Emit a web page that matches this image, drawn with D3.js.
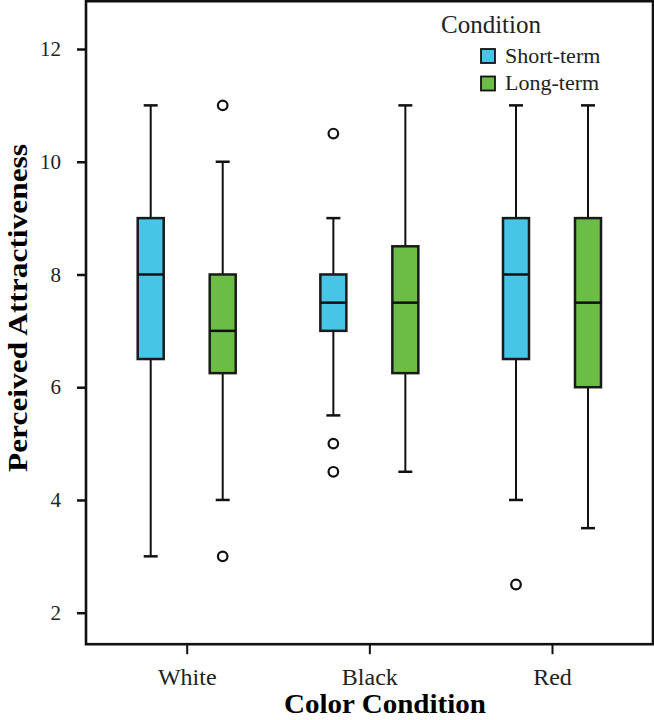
<!DOCTYPE html>
<html>
<head>
<meta charset="utf-8">
<script src="https://cdn.jsdelivr.net/npm/d3@7"></script>
<style>
  html, body { margin: 0; padding: 0; background: #fff; }
  svg { display: block; }
  svg text { font-family: "Liberation Serif", "Times New Roman", Times, "DejaVu Serif", serif !important; }
</style>
</head>
<body>
<svg id="chart" width="654" height="720"></svg>
<script>
// ---- data ----
const categories = ["White", "Black", "Red"];
const series = ["Short-term", "Long-term"];
const seriesColors = ["#46C5E7", "#6CBD46"];
const yTicks = [2, 4, 6, 8, 10, 12];

// per series, per category
const whiskerLow  = [[3, 5.5, 4],   [4, 4.5, 3.5]];
const q1          = [[6.5, 7, 6.5], [6.25, 6.25, 6]];
const median      = [[8, 7.5, 8],   [7, 7.5, 7.5]];
const q3          = [[9, 8, 9],     [8, 8.5, 9]];
const whiskerHigh = [[11, 9, 11],   [10, 11, 11]];
const outliers    = [[[], [10.5, 5, 4.5], [2.5]], [[11, 3], [], []]];

// ---- layout ----
const FONT = '"Liberation Serif", "Times New Roman", Times, "DejaVu Serif", serif';
const svg = d3.select("#chart");
const frame = { left: 86, right: 653, top: 1.2, bottom: 644.2 };

const x = d3.scalePoint().domain(categories).range([186.7, 552]);
const dodge = d3.scalePoint().domain(series).range([-36, 36]);
const y = d3.scaleLinear().domain([2, 12]).range([612.7, 49]);
const boxW = 26, capW = 14;

// y axis
const yAxis = d3.axisLeft(y).tickValues(yTicks).tickSize(9).tickPadding(16).tickFormat(d3.format("d"));
const gy = svg.append("g").attr("transform", `translate(${frame.left},0)`).call(yAxis)
  .attr("font-family", FONT).attr("font-size", 21);
gy.select(".domain").remove();
gy.selectAll(".tick line").attr("stroke", "#111").attr("stroke-width", 2.5);
gy.selectAll(".tick text").attr("fill", "#222");

// x axis
const xAxis = d3.axisBottom(x).tickSize(10).tickPadding(14);
const gx = svg.append("g").attr("transform", `translate(0,${frame.bottom})`).call(xAxis)
  .attr("font-family", FONT).attr("font-size", 24);
gx.select(".domain").remove();
gx.selectAll(".tick line").attr("stroke", "#111").attr("stroke-width", 2);
gx.selectAll(".tick text").attr("fill", "#222");

// frame
svg.append("rect")
  .attr("x", frame.left).attr("y", frame.top)
  .attr("width", frame.right - frame.left).attr("height", frame.bottom - frame.top)
  .attr("fill", "none").attr("stroke", "#111").attr("stroke-width", 2.6);

// boxes
series.forEach((s, si) => {
  categories.forEach((c, ci) => {
    const cx = x(c) + dodge(s);
    const g = svg.append("g");
    g.append("line").attr("x1", cx).attr("x2", cx)
      .attr("y1", y(whiskerHigh[si][ci])).attr("y2", y(q3[si][ci]))
      .attr("stroke", "#111").attr("stroke-width", 2);
    g.append("line").attr("x1", cx).attr("x2", cx)
      .attr("y1", y(q1[si][ci])).attr("y2", y(whiskerLow[si][ci]))
      .attr("stroke", "#111").attr("stroke-width", 2);
    [whiskerHigh[si][ci], whiskerLow[si][ci]].forEach(v => {
      g.append("line").attr("x1", cx - capW / 2).attr("x2", cx + capW / 2)
        .attr("y1", y(v)).attr("y2", y(v))
        .attr("stroke", "#111").attr("stroke-width", 2.5);
    });
    g.append("rect")
      .attr("x", cx - boxW / 2).attr("width", boxW)
      .attr("y", y(q3[si][ci])).attr("height", y(q1[si][ci]) - y(q3[si][ci]))
      .attr("fill", seriesColors[si]).attr("stroke", "#1a1a1a").attr("stroke-width", 2.5);
    g.append("line").attr("x1", cx - boxW / 2).attr("x2", cx + boxW / 2)
      .attr("y1", y(median[si][ci])).attr("y2", y(median[si][ci]))
      .attr("stroke", "#111").attr("stroke-width", 2.5);
    outliers[si][ci].forEach(v => {
      g.append("circle").attr("cx", cx).attr("cy", y(v)).attr("r", 4.8)
        .attr("fill", "#fff").attr("stroke", "#111").attr("stroke-width", 2.2);
    });
  });
});

// axis titles
svg.append("text")
  .attr("x", 385).attr("y", 713)
  .attr("text-anchor", "middle")
  .attr("font-family", FONT)
  .attr("font-size", 28).attr("font-weight", "bold")
  .attr("textLength", 202).attr("lengthAdjust", "spacingAndGlyphs")
  .attr("fill", "#000")
  .text("Color Condition");

svg.append("text")
  .attr("transform", "translate(27,308) rotate(-90)")
  .attr("text-anchor", "middle")
  .attr("font-family", FONT)
  .attr("font-size", 28).attr("font-weight", "bold")
  .attr("textLength", 328).attr("lengthAdjust", "spacingAndGlyphs")
  .attr("fill", "#000")
  .text("Perceived Attractiveness");

// legend
const legend = svg.append("g").attr("font-family", FONT);
legend.append("text").attr("x", 441).attr("y", 33)
  .attr("font-size", 25).attr("fill", "#222").text("Condition");
series.forEach((s, i) => {
  legend.append("rect").attr("x", 481).attr("y", 49 + i * 27.5)
    .attr("width", 14).attr("height", 14)
    .attr("fill", seriesColors[i]).attr("stroke", "#111").attr("stroke-width", 1.8);
  legend.append("text").attr("x", 505).attr("y", 62.5 + i * 27.5)
    .attr("font-size", 22).attr("fill", "#222").text(s);
});
</script>
</body>
</html>
